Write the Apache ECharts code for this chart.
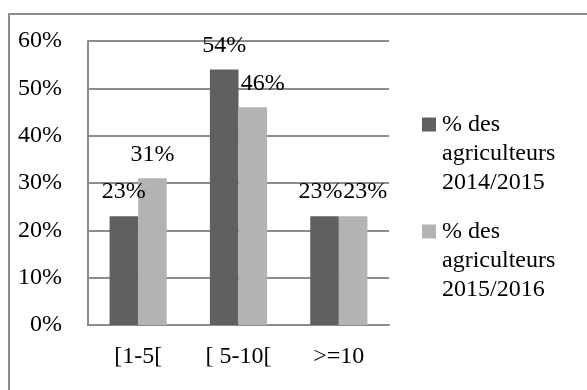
<!DOCTYPE html>
<html><head><meta charset="utf-8">
<script src="https://cdn.jsdelivr.net/npm/echarts@6/dist/echarts.min.js"></script>
<style>html,body{margin:0;padding:0;background:#fff}#c{width:587px;height:390px}</style>
</head><body><div id="c"></div>
<script>
var categories = ['[1-5[', '[ 5-10[', '>=10'];
var series2014 = [23, 54, 23];
var series2015 = [31, 46, 23];
var seriesNames = ['% des agriculteurs 2014/2015', '% des agriculteurs 2015/2016'];
var seriesColors = ['#606060', '#b3b3b3'];
var yTicks = [0, 10, 20, 30, 40, 50, 60];

var FONT = '"Liberation Serif", "Times New Roman", serif';
var FS = 24;
var chart = echarts.init(document.getElementById('c'));
function lbl(off){ return {show:true, position:'top', distance:12, offset:off||[0,0], formatter:'{c}%', fontFamily:FONT, fontSize:FS, color:'#000'}; }
chart.setOption({
  animation:false,
  textStyle:{fontFamily:FONT},
  graphic:[{type:'polyline', shape:{points:[[9,390],[9,14],[587,14]]}, style:{stroke:'#8c8c8c', lineWidth:2, fill:null}}],
  grid:{left:88, right:198, top:41, bottom:65},
  legend:{orient:'vertical', left:417, top:105, itemWidth:0, itemHeight:14, itemGap:20, icon:'none',
    formatter:function(name){
      var k = seriesNames.indexOf(name);
      var parts = name.split(' ');
      return '{i' + k + '|}{g|}{t|' + parts[0] + ' ' + parts[1] + '}\n{s|}{t|' + parts[2] + '}\n{s|}{t|' + parts[3] + '}';
    },
    textStyle:{fontFamily:FONT, fontSize:FS, color:'#000', lineHeight:29, padding:[0,0,0,-5],
      rich:{
        i0:{width:14, height:14, backgroundColor:seriesColors[0]},
        i1:{width:14, height:14, backgroundColor:seriesColors[1]},
        g:{width:6},
        s:{width:20},
        t:{fontFamily:FONT, fontSize:FS, color:'#000', lineHeight:29}
      }}},
  xAxis:{type:'category', data:categories, axisTick:{show:false},
    axisLine:{lineStyle:{color:'#8c8c8c', width:2}},
    axisLabel:{fontFamily:FONT, fontSize:FS, color:'#000', margin:20}},
  yAxis:{type:'value', min:0, max:60, interval:10,
    axisLine:{show:true, lineStyle:{color:'#8c8c8c', width:2}},
    splitLine:{lineStyle:{color:'#8c8c8c', width:2}},
    axisLabel:{fontFamily:FONT, fontSize:FS, color:'#000', margin:26, formatter:'{value}%'}},
  series:[
    {name:seriesNames[0], type:'bar', data:series2014.map(function(v,i){return {value:v, label:lbl(i===2?[-4,0]:[0,0])};}),
     itemStyle:{color:seriesColors[0]}, barGap:'0%', barCategoryGap:'43%'},
    {name:seriesNames[1], type:'bar', data:series2015.map(function(v,i){return {value:v, label:lbl(i===1?[10,0]:(i===2?[12,0]:[0,0]))};}),
     itemStyle:{color:seriesColors[1]}, barGap:'0%', barCategoryGap:'43%'}
  ]
});
</script></body></html>
